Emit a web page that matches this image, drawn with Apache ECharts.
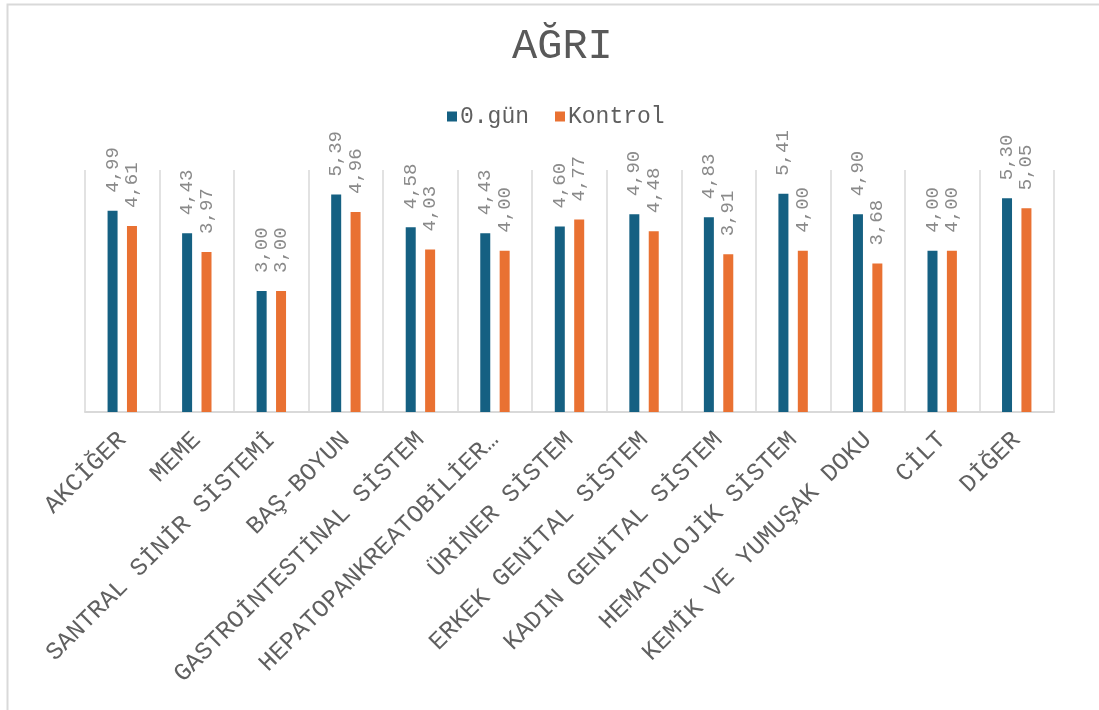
<!DOCTYPE html>
<html>
<head>
<meta charset="utf-8">
<title>AĞRI</title>
<script src="https://cdn.jsdelivr.net/npm/echarts@6/dist/echarts.min.js"></script>
<style>
  html, body { margin: 0; padding: 0; background: #ffffff; }
  #chart { width: 1099px; height: 710px; }
</style>
</head>
<body>
<div id="chart"></div>
<script>
// Categories (organ systems) and the two compared groups
const categories = [
  'AKCİĞER', 'MEME', 'SANTRAL SİNİR SİSTEMİ', 'BAŞ-BOYUN',
  'GASTROİNTESTİNAL SİSTEM', 'HEPATOPANKREATOBİLİER SİSTEM', 'ÜRİNER SİSTEM',
  'ERKEK GENİTAL SİSTEM', 'KADIN GENİTAL SİSTEM', 'HEMATOLOJİK SİSTEM',
  'KEMİK VE YUMUŞAK DOKU', 'CİLT', 'DİĞER'
];
const seriesNames = ['0.gün', 'Kontrol'];
const gun0Values = [4.99, 4.43, 3.00, 5.39, 4.58, 4.43, 4.60, 4.90, 4.83, 5.41, 4.90, 4.00, 5.30];
const kontrolValues = [4.61, 3.97, 3.00, 4.96, 4.03, 4.00, 4.77, 4.48, 3.91, 4.00, 3.68, 4.00, 5.05];
const titleText = 'AĞRI';

const MONO = '"Liberation Mono", "DejaVu Sans Mono", monospace';
const fmtComma = v => Number(v).toFixed(2).replace('.', ',');

const chart = echarts.init(document.getElementById('chart'), null, { renderer: 'canvas' });

const valueLabel = {
  show: true,
  position: 'top',
  rotate: 90,
  align: 'left',
  verticalAlign: 'middle',
  distance: 18,
  fontFamily: MONO,
  fontSize: 19,
  color: '#8a8a8a',
  formatter: p => fmtComma(p.value)
};

chart.setOption({
  backgroundColor: '#ffffff',
  animation: false,
  title: {
    text: titleText,
    left: 507,
    top: 21,
    textStyle: { fontFamily: MONO, fontSize: 42, fontWeight: 'normal', color: '#595959' }
  },
  legend: {
    data: seriesNames,
    left: 442,
    top: 100,
    itemWidth: 10,
    itemHeight: 10,
    itemGap: 26,
    icon: 'rect',
    textStyle: { fontFamily: MONO, fontSize: 23, color: '#5f5f5f', padding: [0, 0, 0, -2] }
  },
  grid: { left: 85, right: 45, top: 170, bottom: 298, containLabel: false },
  xAxis: {
    type: 'category',
    data: categories,
    boundaryGap: true,
    axisLine: { show: true, lineStyle: { color: '#d9d9d9', width: 2 } },
    axisTick: { show: false },
    splitLine: { show: true, lineStyle: { color: '#d9d9d9', width: 1.5 } },
    axisLabel: {
      interval: 0,
      rotate: 45,
      margin: 24,
      fontFamily: MONO,
      fontSize: 24.8,
      color: '#606060',
      formatter: s => s.length > 23 ? s.slice(0, 21) + '…' : s
    }
  },
  yAxis: {
    type: 'value',
    min: 0,
    max: 6,
    show: false,
    splitLine: { show: false }
  },
  graphic: [{
    type: 'rect',
    left: 5,
    top: 2,
    shape: { width: 1200, height: 800 },
    style: { fill: 'none', stroke: '#d9d9d9', lineWidth: 2 },
    silent: true,
    z: -1
  }],
  series: [
    {
      name: seriesNames[0],
      type: 'bar',
      data: gun0Values,
      barWidth: 10,
      barGap: '94%',
      itemStyle: { color: '#156082' },
      label: valueLabel
    },
    {
      name: seriesNames[1],
      type: 'bar',
      data: kontrolValues,
      barWidth: 10,
      barGap: '94%',
      itemStyle: { color: '#E97132' },
      label: valueLabel
    }
  ]
});
</script>
</body>
</html>
